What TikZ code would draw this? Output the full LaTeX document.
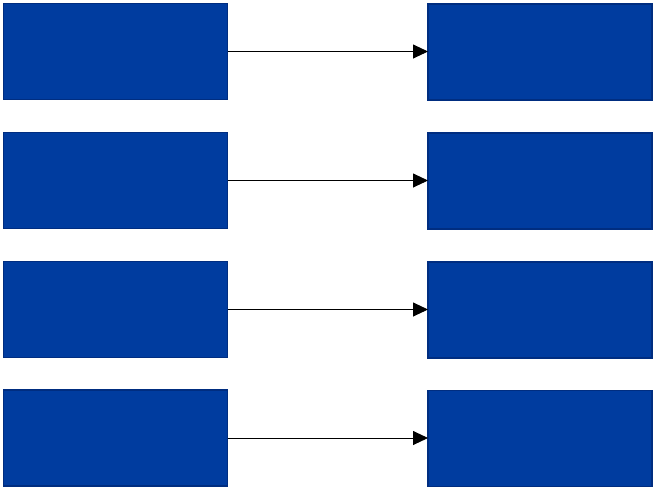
\documentclass[tikz,border=0pt]{standalone}
\usetikzlibrary{arrows.meta}
\definecolor{boxfill}{HTML}{003C9F}
\definecolor{boxedge}{HTML}{002D80}
\begin{document}
\begin{tikzpicture}[x=1pt,y=-1pt,
  bluebox/.style={draw=boxedge,fill=boxfill,line width=1.5pt,minimum width=224pt,minimum height=96pt,inner sep=0pt,outer sep=0pt},
  conn/.style={-{Triangle[length=15pt,width=14pt]},line width=0.9pt,black}]
\useasboundingbox (0,0) rectangle (653,490);
\foreach \i/\y in {1/51.5,2/180.5,3/309.5,4/438}{
  \node[bluebox] (L\i) at (115.5,\y) {};
  \node[bluebox] (R\i) at (540,\y+0.5) {};
  \draw[conn] (L\i.east) -- (R\i.west |- L\i.east);
}
\end{tikzpicture}
\end{document}
